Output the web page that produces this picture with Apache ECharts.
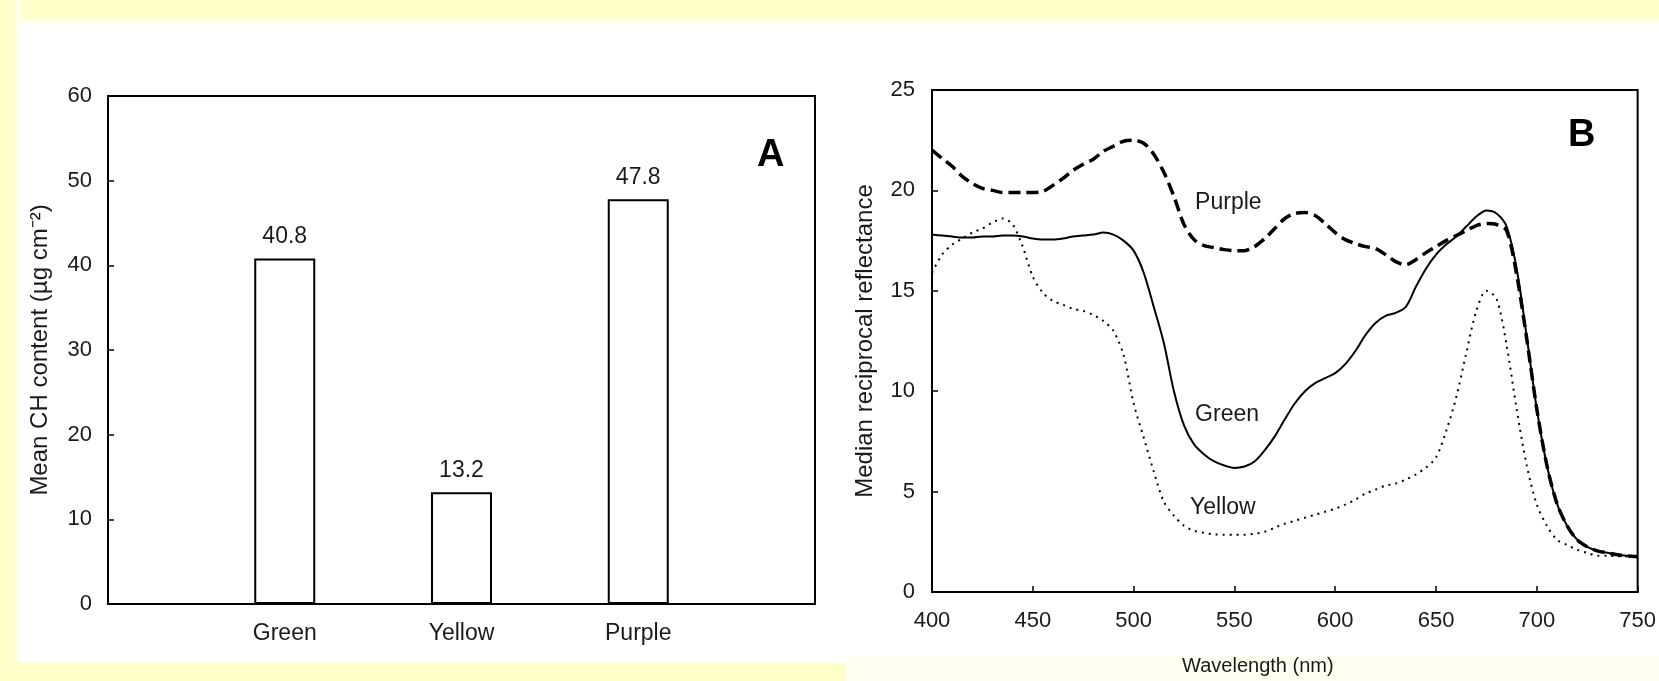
<!DOCTYPE html>
<html>
<head>
<meta charset="utf-8">
<script src="https://cdn.jsdelivr.net/npm/echarts@6/dist/echarts.min.js"></script>
<style>
  html, body { margin: 0; padding: 0; background: #fff; }
  #chart { width: 1659px; height: 681px; }
</style>
</head>
<body>
<div id="chart"></div>
<script>
// panel A: chlorophyll content per leaf colour
const categories = ['Green', 'Yellow', 'Purple']
const chlValues = [40.8, 13.2, 47.8]
const chlTicks = [0, 10, 20, 30, 40, 50, 60]

// panel B: reciprocal reflectance spectra
const wavelength = [
  400, 405, 410, 415, 420, 425, 430, 435, 440, 445, 450, 455, 460, 465, 470, 475, 480, 485,
  490, 495, 500, 505, 510, 515, 520, 525, 530, 535, 540, 545, 550, 555, 560, 565, 570, 575,
  580, 585, 590, 595, 600, 605, 610, 615, 620, 625, 630, 635, 640, 645, 650, 655, 660, 665,
  670, 675, 680, 685, 690, 695, 700, 705, 710, 715, 720, 725, 730, 735, 740, 745, 750
]
const purple = [
  22.0, 21.6, 21.2, 20.7, 20.35, 20.1, 20.0, 19.9, 19.9, 19.9, 19.9, 19.95, 20.25, 20.6, 21.0, 21.3, 21.55, 21.95,
  22.2, 22.45, 22.5, 22.35, 21.8, 20.9, 19.7, 18.3, 17.55, 17.25, 17.15, 17.05, 17.0, 17.0, 17.2, 17.6, 18.1, 18.6,
  18.85, 18.9, 18.75, 18.35, 17.9, 17.55, 17.35, 17.2, 17.1, 16.8, 16.45, 16.3, 16.55, 16.9, 17.2, 17.5, 17.75, 18.0,
  18.25, 18.35, 18.3, 18.0, 15.8, 12.6, 9.1, 6.3, 4.4, 3.3, 2.6, 2.25, 2.05, 1.95, 1.85, 1.8, 1.75
]
const green = [
  17.8, 17.75, 17.7, 17.65, 17.65, 17.7, 17.7, 17.75, 17.75, 17.7, 17.6, 17.55, 17.55, 17.6, 17.7, 17.75, 17.8, 17.9,
  17.8, 17.5, 17.0, 15.9, 14.2, 12.4, 10.0, 8.3, 7.35, 6.85, 6.5, 6.3, 6.18, 6.25, 6.5, 7.05, 7.75, 8.6,
  9.4, 10.0, 10.4, 10.65, 10.9, 11.35, 12.0, 12.8, 13.4, 13.75, 13.9, 14.2, 15.2, 16.1, 16.8, 17.3, 17.7, 18.2,
  18.7, 19.0, 18.85, 18.2, 16.1, 12.7, 9.1, 6.3, 4.4, 3.3, 2.6, 2.25, 2.05, 1.95, 1.85, 1.8, 1.75
]
const yellow = [
  15.9, 16.8, 17.3, 17.6, 17.9, 18.1, 18.4, 18.6, 18.3, 17.2, 15.7, 14.9, 14.5, 14.3, 14.1, 14.0, 13.8, 13.5,
  13.0, 11.8, 9.4, 7.7, 6.0, 4.5, 3.8, 3.3, 3.05, 2.95, 2.87, 2.85, 2.85, 2.85, 2.9, 3.0, 3.2, 3.4,
  3.55, 3.7, 3.85, 4.0, 4.15, 4.35, 4.6, 4.9, 5.1, 5.3, 5.4, 5.6, 5.85, 6.2, 6.7, 8.0, 9.7, 11.9,
  14.0, 15.0, 14.6, 12.3, 9.1, 6.3, 4.35, 3.3, 2.6, 2.35, 2.1, 1.95, 1.8, 1.8, 1.78, 1.77, 1.75
]
const curveNames = ['Purple', 'Green', 'Yellow']
// where the curve names sit, in data units [nm, value]
const curveLabelAt = [[530.5, 19.4], [530.5, 8.85], [528, 4.2]]

const FONT = '"Liberation Sans", Arial, sans-serif'
const TXT = '#1a1a1a'
const YEL = '#ffffc8'

const pairs = vals => wavelength.map((w, i) => [w, vals[i]])
// pad the category axis so bars sit at quarter positions like the original
const barAxis = [''].concat(categories, [''])
const barData = ['-'].concat(chlValues, ['-'])

const axisText = { color: TXT, fontSize: 22, fontFamily: FONT }
const nameText = { color: TXT, fontSize: 22, fontFamily: FONT }
const frameLine = { show: true, lineStyle: { color: '#000', width: 2 } }
const innerTick = { show: true, inside: true, length: 6, lineStyle: { color: '#000', width: 1.5 } }
const curveLabel = { show: true, position: 'right', distance: 0, formatter: '{b}', color: TXT, fontSize: 23, fontFamily: FONT }

const chart = echarts.init(document.getElementById('chart'))
chart.setOption({
  backgroundColor: '#fff',
  animation: false,
  graphic: [
    { type: 'rect', z: -5, shape: { x: 0, y: 0, width: 1659, height: 26 },
      style: { fill: new echarts.graphic.LinearGradient(0, 0, 0, 1, [
        { offset: 0, color: YEL }, { offset: 0.6, color: YEL }, { offset: 1, color: '#ffffff' }]) } },
    { type: 'rect', z: -5, shape: { x: 0, y: 0, width: 20, height: 681 },
      style: { fill: new echarts.graphic.LinearGradient(0, 0, 1, 0, [
        { offset: 0, color: YEL }, { offset: 0.65, color: YEL }, { offset: 1, color: '#ffffff' }]) } },
    { type: 'rect', z: -5, shape: { x: 0, y: 663, width: 845, height: 18 }, style: { fill: YEL } },
    { type: 'rect', z: -6, shape: { x: 845, y: 656, width: 814, height: 25 }, style: { fill: '#fffff2' } },
    { type: 'text', left: 757, top: 137,
      style: { text: 'A', font: 'bold 38px ' + FONT, fill: '#000' } },
    { type: 'text', left: 1568, top: 117,
      style: { text: 'B', font: 'bold 38px ' + FONT, fill: '#000' } }
  ],
  grid: [
    { left: 108, top: 96, width: 707, height: 508, show: true, borderColor: '#000', borderWidth: 2 },
    { left: 932, top: 90, width: 709, height: 506, show: true, borderColor: '#000', borderWidth: 2 }
  ],
  xAxis: [
    {
      gridIndex: 0,
      type: 'category',
      data: barAxis,
      boundaryGap: false,
      axisLine: frameLine,
      axisTick: Object.assign({}, innerTick, { length: 5, interval: (i, v) => v !== '' }),
      axisLabel: Object.assign({}, axisText, { fontSize: 23, margin: 18 }),
      splitLine: { show: false }
    },
    {
      gridIndex: 1,
      type: 'value',
      min: 400,
      max: 750,
      interval: 50,
      name: 'Wavelength (nm)',
      nameLocation: 'middle',
      nameGap: 64,
      nameTextStyle: Object.assign({}, nameText, { fontSize: 20, padding: [0, 54, 0, 0] }),
      axisLine: frameLine,
      axisTick: innerTick,
      axisLabel: Object.assign({}, axisText, { margin: 18 }),
      splitLine: { show: false }
    }
  ],
  yAxis: [
    {
      gridIndex: 0,
      type: 'value',
      min: chlTicks[0],
      max: chlTicks[chlTicks.length - 1],
      interval: 10,
      name: 'Mean CH content (µg cm⁻²)',
      nameLocation: 'middle',
      nameGap: 56,
      nameTextStyle: Object.assign({}, nameText, { fontSize: 24 }),
      axisLine: frameLine,
      axisTick: innerTick,
      axisLabel: Object.assign({}, axisText, { margin: 16 }),
      splitLine: { show: false }
    },
    {
      gridIndex: 1,
      type: 'value',
      min: 0,
      max: 25,
      interval: 5,
      name: 'Median reciprocal reflectance',
      nameLocation: 'middle',
      nameGap: 55,
      nameTextStyle: Object.assign({}, nameText, { fontSize: 24 }),
      axisLine: frameLine,
      axisTick: innerTick,
      axisLabel: Object.assign({}, axisText, { margin: 17 }),
      splitLine: { show: false }
    }
  ],
  series: [
    {
      type: 'bar',
      xAxisIndex: 0,
      yAxisIndex: 0,
      data: barData,
      barWidth: 61,
      itemStyle: { color: '#fff', borderColor: '#000', borderWidth: 2 },
      label: { show: true, position: 'top', distance: 10, color: TXT, fontSize: 23, fontFamily: FONT }
    },
    {
      name: curveNames[0],
      type: 'line',
      xAxisIndex: 1,
      yAxisIndex: 1,
      data: pairs(purple),
      smooth: 0.3,
      showSymbol: false,
      z: 3,
      lineStyle: { color: '#000', width: 3.5, type: [12, 6] },
      markPoint: { symbolSize: 0, label: curveLabel, data: [{ name: curveNames[0], coord: curveLabelAt[0] }] }
    },
    {
      name: curveNames[1],
      type: 'line',
      xAxisIndex: 1,
      yAxisIndex: 1,
      data: pairs(green),
      smooth: 0.3,
      showSymbol: false,
      lineStyle: { color: '#000', width: 2 },
      markPoint: { symbolSize: 0, label: curveLabel, data: [{ name: curveNames[1], coord: curveLabelAt[1] }] }
    },
    {
      name: curveNames[2],
      type: 'line',
      xAxisIndex: 1,
      yAxisIndex: 1,
      data: pairs(yellow),
      smooth: 0.3,
      showSymbol: false,
      lineStyle: { color: '#000', width: 2, type: [2, 5] },
      markPoint: { symbolSize: 0, label: curveLabel, data: [{ name: curveNames[2], coord: curveLabelAt[2] }] }
    }
  ]
})
</script>
</body>
</html>
